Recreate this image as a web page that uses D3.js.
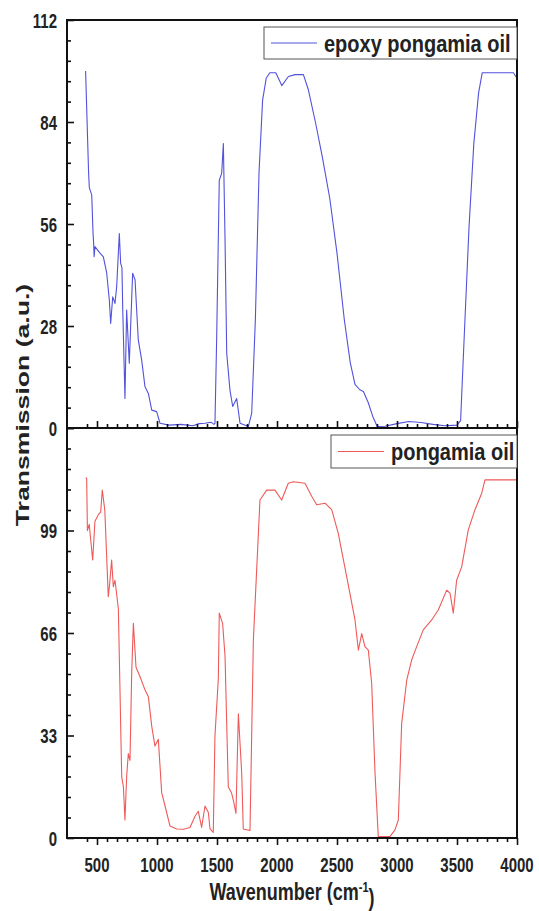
<!DOCTYPE html>
<html>
<head>
<meta charset="utf-8">
<script src="https://cdn.jsdelivr.net/npm/d3@7"></script>
<style>
  body { margin: 0; background: #fff; }
  svg { display: block; font-family: "Liberation Sans", Arial, sans-serif; }
</style>
</head>
<body>
<div id="chart"></div>
<script>
// Chart size and panel layout
const width = 539;
const height = 911;
const left = 67, right = 517;
const top1 = 20, mid = 428, bottom2 = 838;
const stretch = 1.4; // the picture is stretched vertically, text too

// Epoxy pongamia oil (top panel)
const epoxyWave = [405, 430, 436, 456, 467, 472, 476, 483, 525, 553, 581, 603, 614, 631, 650, 664, 686, 697, 708, 714, 733,
  747, 769, 797, 817, 844, 872, 900, 928, 956, 997, 1025, 1100, 1200, 1300, 1350, 1400, 1450, 1475, 1483, 1497, 1519,
  1539, 1553, 1567, 1581, 1608, 1631, 1664, 1692, 1761, 1789, 1820, 1850, 1880, 1910, 1940, 1990, 2040, 2095, 2150,
  2220, 2260, 2320, 2380, 2440, 2500, 2560, 2610, 2650, 2690, 2720, 2760, 2800, 2835, 2900, 3000, 3100, 3200, 3300,
  3400, 3500, 3530, 3560, 3600, 3640, 3680, 3710, 3800, 3900, 3970, 4000];
const epoxyValue = [98, 70, 66, 64, 53.5, 50.7, 47, 49.8, 48, 47, 42.5, 35, 28.7, 36, 34.2, 38.8, 53.4, 45.2, 44, 33.3, 8.1,
  32.4, 17.8, 42.5, 40.7, 24.2, 18.7, 11.3, 9.5, 4.9, 4.5, 1.3, 0.8, 1, 0.6, 1.2, 1.3, 1.6, 1.0, 1.3, 24.2, 68,
  69.9, 78.1, 51.6, 20.5, 10.4, 5.9, 8.1, 1.3, 0.4, 4, 30, 70, 90, 96, 97.5, 97.5, 94, 96.5, 97,
  97, 93, 84, 74, 63, 48, 30, 18, 12, 10.5, 10, 7, 3, 0.4, 0.5, 1.2, 1.8, 1.5, 1,
  0.6, 0.8, 2, 25, 55, 78, 92, 97.5, 97.5, 97.5, 97.5, 96];

// Pongamia oil (bottom panel)
const oilWave = [405, 414, 420, 435, 464, 483, 510, 531, 544, 565, 594, 606, 622, 636, 650, 678, 706, 720, 733, 747, 761,
  775, 789, 803, 825, 858, 900, 928, 956, 983, 1011, 1039, 1067, 1108, 1164, 1220, 1275, 1317, 1344, 1372, 1400, 1428,
  1442, 1469, 1483, 1511, 1519, 1547, 1567, 1594, 1622, 1636, 1658, 1678, 1706, 1719, 1775, 1803, 1858, 1914, 1983,
  2039, 2094, 2136, 2233, 2289, 2331, 2400, 2456, 2511, 2581, 2650, 2678, 2706, 2733, 2761, 2789, 2817, 2844, 2942,
  2983, 3011, 3039, 3081, 3122, 3164, 3219, 3289, 3344, 3414, 3442, 3469, 3497, 3539, 3594, 3650, 3706, 3733, 4000];
const oilValue = [116, 115.8, 99, 101, 89.5, 102, 104, 105, 112, 105.6, 77.7, 82, 89.5, 80.9, 83, 73.8, 19.7, 16.5, 5.8, 19.7, 27.2,
  25, 53, 69.1, 55, 52, 47.7, 45.5, 36, 29.6, 31.8, 14.6, 10.3, 3.9, 2.9, 2.8, 3.4, 7, 8.6, 3.4, 10.3, 8.2,
  2.9, 1.8, 32.9, 51.2, 72.4, 69, 58.5, 16.5, 14.4, 12.2, 7.9, 40, 20.8, 2.9, 2.4, 63.7, 108.8, 112, 112,
  108.8, 114.2, 114.7, 114.2, 110, 107.3, 107.8, 105.7, 98, 84.1, 70.2, 60.5, 65.8, 61.6, 60.5, 49.8, 20.8, 0.5, 0.5,
  2.6, 5.8, 36.9, 50.8, 57.3, 61.6, 67, 70.2, 73.4, 79.8, 78.8, 72.4, 83, 87.3, 99.2, 105.7, 111, 115.3, 115.3];

// Ticks
const xTicks = [500, 1000, 1500, 2000, 2500, 3000, 3500, 4000];
const topTicks = [0, 28, 56, 84, 112];
const bottomTicks = [0, 33, 66, 99];

const svg = d3.select("#chart").append("svg")
  .attr("width", width)
  .attr("height", height);

const x = d3.scaleLinear().domain([250, 4000]).range([left, right]);
const yTop = d3.scaleLinear().domain([0, 112]).range([mid, top1]);
const yBottom = d3.scaleLinear().domain([0, 132]).range([bottom2, mid]);

const xMinor = d3.range(250 + 500 / 6 * 2, 4000, 500 / 6).filter(v => Math.abs(v / 500 - Math.round(v / 500)) > 0.01);
const topMinor = d3.range(0, 112, 5.6).filter(v => Math.abs(v / 28 - Math.round(v / 28)) > 0.01);
const bottomMinor = d3.range(0, 132, 6.6).filter(v => Math.abs(v / 33 - Math.round(v / 33)) > 0.01);

// Draw the curves
function drawCurve(waves, values, yScale, color) {
  const line = d3.line()
    .x(d => x(d[0]))
    .y(d => yScale(d[1]));
  svg.append("path")
    .datum(d3.zip(waves, values))
    .attr("fill", "none")
    .attr("stroke", color)
    .attr("stroke-width", 1.1)
    .attr("stroke-linejoin", "round")
    .attr("d", line);
}
drawCurve(epoxyWave, epoxyValue, yTop, "#5252dc");
drawCurve(oilWave, oilValue, yBottom, "#ee5a5a");

// Axes (tick marks only, labels are drawn by hand so they can be stretched)
function tickAxis(axis, tr, major, minor, bigLen, smallLen) {
  const g1 = svg.append("g").attr("transform", tr)
    .call(axis.tickValues(major).tickSize(bigLen).tickFormat(""));
  const g2 = svg.append("g").attr("transform", tr)
    .call(axis.tickValues(minor).tickSize(smallLen).tickFormat(""));
  [g1, g2].forEach(g => {
    g.select(".domain").remove();
    g.selectAll("line").attr("stroke", "#111").attr("stroke-width", 1.6);
  });
}
tickAxis(d3.axisLeft(yTop), `translate(${left},0)`, topTicks, topMinor, -7, -4);
tickAxis(d3.axisLeft(yBottom), `translate(${left},0)`, bottomTicks.concat([132]), bottomMinor, -7, -4);
tickAxis(d3.axisTop(x), `translate(0,${mid})`, xTicks, xMinor, 7, 4);
tickAxis(d3.axisBottom(x), `translate(0,${bottom2})`, xTicks, xMinor, 7, 4);

// Frame
const frame = svg.append("g").attr("fill", "none").attr("stroke", "#111");
frame.append("rect")
  .attr("x", left).attr("y", top1)
  .attr("width", right - left).attr("height", bottom2 - top1)
  .attr("stroke-width", 2);
frame.append("line")
  .attr("x1", left).attr("x2", right)
  .attr("y1", mid).attr("y2", mid)
  .attr("stroke-width", 1.8);

// Stretched text helper
function label(px, py, txt, size, anchor, sy, rotate) {
  const g = svg.append("g")
    .attr("transform", `translate(${px},${py})` + (rotate ? ` rotate(${rotate})` : "") + ` scale(${rotate ? sy : 1},${rotate ? 1 : sy})`);
  return g.append("text")
    .attr("text-anchor", anchor)
    .attr("dy", "0.36em")
    .attr("font-size", size)
    .attr("font-weight", "bold")
    .attr("fill", "#222")
    .text(txt);
}

topTicks.forEach(v => label(57, yTop(v), v, 15, "end", stretch));
bottomTicks.forEach(v => label(57, yBottom(v), v, 15, "end", stretch));
xTicks.forEach(v => label(x(v), 864, v, 15, "middle", stretch));

// Axis titles
const xt = label((left + right) / 2, 892, "Wavenumber (cm", 18, "middle", 1.3);
xt.append("tspan").attr("font-size", 11).attr("dy", "-0.6em").text("-1");
xt.append("tspan").attr("dy", "0.6em").text(")");
label(22, 405, "Transmission (a.u.)", 19, "middle", stretch, -90);

// Legends
function legend(x0, y0, x1, y1, color, txt) {
  svg.append("rect")
    .attr("x", x0).attr("y", y0)
    .attr("width", x1 - x0).attr("height", y1 - y0)
    .attr("fill", "#fff")
    .attr("stroke", "#555")
    .attr("stroke-width", 1);
  const cy = (y0 + y1) / 2;
  svg.append("line")
    .attr("x1", x0 + 7).attr("x2", x0 + 53)
    .attr("y1", cy).attr("y2", cy)
    .attr("stroke", color).attr("stroke-width", 1.2);
  label(x0 + 60, cy, txt, 20, "start", 1.2);
}
legend(264, 27, right, 59, "#5252dc", "epoxy pongamia oil");
legend(331, 435, right, 468, "#ee5a5a", "pongamia oil");

// Redraw right frame edge over the legends
frame.append("line")
  .attr("x1", right).attr("x2", right)
  .attr("y1", top1).attr("y2", bottom2)
  .attr("stroke-width", 2);
</script>
</body>
</html>
